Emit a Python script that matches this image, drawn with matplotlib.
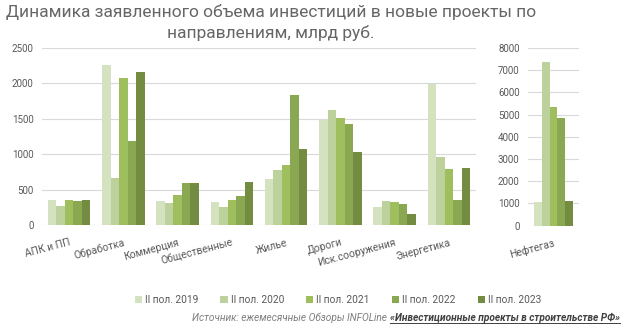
import matplotlib
matplotlib.use("Agg")
import matplotlib.pyplot as plt
from matplotlib import font_manager
from matplotlib.lines import Line2D
from matplotlib.patches import Patch
import numpy as np

# prefer a narrow face if one is installed
available = {f.name for f in font_manager.fontManager.ttflist}
FONT = "Liberation Sans Narrow" if "Liberation Sans Narrow" in available else "Roboto"
plt.rcParams["font.family"] = [FONT, "DejaVu Sans"]

periods = ["II пол. 2019", "II пол. 2020", "II пол. 2021", "II пол. 2022", "II пол. 2023"]
colors = ["#d5e2c0", "#bcd19c", "#9fbf5e", "#8aa852", "#738c42"]

sectors = ["АПК и ПП", "Обработка", "Коммерция", "Общественные", "Жилье",
           "Дороги", "Иск.сооружения", "Энергетика"]
y2019 = [355, 2255, 340, 320, 650, 1480, 255, 1990]
y2020 = [270, 665, 315, 255, 770, 1625, 340, 955]
y2021 = [360, 2080, 425, 350, 845, 1505, 320, 795]
y2022 = [340, 1180, 600, 415, 1835, 1420, 300, 350]
y2023 = [360, 2155, 590, 610, 1075, 1025, 150, 800]

oil_label = ["Нефтегаз"]
oil = [1070, 7380, 5350, 4860, 1110]

TEXT = "#595959"
GRID = "#d9d9d9"

W, H = 626, 325
fig = plt.figure(figsize=(W / 100, H / 100), dpi=100)


def px_axes(x0, y0, x1, y1):
    return fig.add_axes([x0 / W, 1 - y1 / H, (x1 - x0) / W, (y1 - y0) / H])


def style(ax, ymax, step):
    ax.set_ylim(0, ymax)
    ax.set_yticks(np.arange(0, ymax + 1, step))
    ax.yaxis.grid(True, color=GRID, linewidth=0.8)
    ax.set_axisbelow(True)
    for s in ax.spines.values():
        s.set_visible(False)
    ax.tick_params(axis="both", length=0, colors=TEXT, labelsize=7)
    ax.tick_params(axis="y", pad=6)


ax = px_axes(42, 48, 476, 225)
ax2 = px_axes(528, 48, 579, 225.7)

bw = 0.157
x = np.arange(len(sectors))
series = [y2019, y2020, y2021, y2022, y2023]
for i, vals in enumerate(series):
    ax.bar(x + (i - 2) * bw, vals, width=bw, color=colors[i], linewidth=0)
ax.set_xlim(-0.5, len(sectors) - 0.5)
style(ax, 2500, 500)
ax.set_xticks(x)
ax.set_xticklabels(sectors, rotation=15, ha="right", rotation_mode="anchor", fontsize=7.5)
ax.tick_params(axis="x", pad=9)

bw2 = 0.153
for i in range(len(periods)):
    ax2.bar((i - 2) * bw2, oil[i], width=bw2, color=colors[i], linewidth=0)
ax2.set_xlim(-0.5, 0.5)
style(ax2, 8000, 1000)
ax2.set_xticks([0])
ax2.set_xticklabels(oil_label, rotation=15, ha="right", rotation_mode="anchor", fontsize=7.5)
ax2.tick_params(axis="x", pad=9)

fig.text(271 / W, 1 - 4 / H,
         "Динамика заявленного объема инвестиций в новые проекты по\nнаправлениям, млрд руб.",
         ha="center", va="top", fontsize=12.5, color="#666666", linespacing=1.35)

handles = [Patch(facecolor=c, edgecolor="none") for c in colors]
fig.legend(handles, periods, loc="center", bbox_to_anchor=(338 / W, 1 - 300 / H), ncol=5,
           frameon=False, fontsize=7.3, handlelength=0.7, handleheight=0.7,
           handletextpad=0.3, columnspacing=2.2, labelcolor=TEXT)

# source line: plain part + bold underlined title
renderer = fig.canvas.get_renderer()
bold = fig.text(620 / W, 1 - 318 / H, "«Инвестиционные проекты в строительстве РФ»",
                ha="right", va="center", fontsize=7.3, style="italic",
                weight="bold", color="#404040")
bb = bold.get_window_extent(renderer).transformed(fig.transFigure.inverted())
fig.text(bb.x0 - 3 / W, 1 - 318 / H, "Источник: ежемесячные Обзоры INFOLine",
         ha="right", va="center", fontsize=7.3, style="italic", color="#7f7f7f")
fig.add_artist(Line2D([bb.x0, bb.x1], [bb.y0 + 0.5 / H, bb.y0 + 0.5 / H],
                      transform=fig.transFigure, color="#404040", linewidth=0.7))

fig.savefig("out.png", dpi=100)
